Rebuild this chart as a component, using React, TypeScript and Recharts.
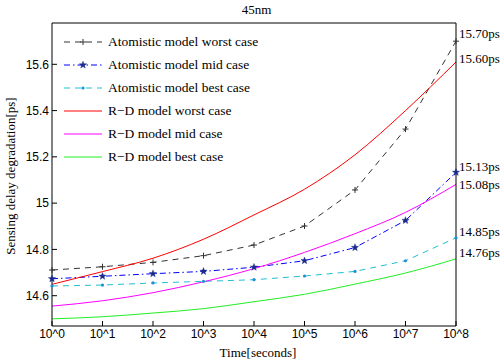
import React from "react";
import { LineChart, Line, XAxis, YAxis, Legend, LabelList, Label } from "recharts";

// time exponents: 10^0 .. 10^8 seconds
const exps = [0, 1, 2, 3, 4, 5, 6, 7, 8];
const atomWorst = [14.711, 14.725, 14.744, 14.773, 14.819, 14.901, 15.057, 15.32, 15.7];
const atomMid = [14.673, 14.684, 14.695, 14.705, 14.723, 14.751, 14.808, 14.925, 15.133];
const atomBest = [14.642, 14.646, 14.655, 14.662, 14.669, 14.685, 14.705, 14.751, 14.85];
const rdWorst = [14.649, 14.704, 14.762, 14.844, 14.949, 15.06, 15.209, 15.4, 15.61];
const rdMid = [14.555, 14.578, 14.613, 14.66, 14.717, 14.787, 14.868, 14.96, 15.081];
const rdBest = [14.5, 14.509, 14.525, 14.544, 14.574, 14.606, 14.65, 14.698, 14.759];
const yTicks = [14.6, 14.8, 15, 15.2, 15.4, 15.6];
const endLabels = ["15.70ps", "15.13ps", "14.85ps", "15.60ps", "15.08ps", "14.76ps"];

const data = exps.map((e, i) => ({
  x: e,
  atomWorst: atomWorst[i],
  atomMid: atomMid[i],
  atomBest: atomBest[i],
  rdWorst: rdWorst[i],
  rdMid: rdMid[i],
  rdBest: rdBest[i],
}));

const serif = '"Liberation Serif", "Times New Roman", serif';
const sans = '"Liberation Sans", Arial, sans-serif';
const yDomain = [14.469, 15.7785];

function PlusMark({ cx, cy }: any) {
  if (cx == null || cy == null) return null;
  return <path d={`M${cx - 3},${cy}h6M${cx},${cy - 3}v6`} stroke="#333" strokeWidth={1} fill="none" />;
}

function starPath(cx: number, cy: number, r: number) {
  let d = "";
  for (let k = 0; k < 10; k++) {
    const rr = k % 2 === 0 ? r : r * 0.42;
    const a = -Math.PI / 2 + (k * Math.PI) / 5;
    d += (k === 0 ? "M" : "L") + (cx + rr * Math.cos(a)).toFixed(2) + "," + (cy + rr * Math.sin(a)).toFixed(2);
  }
  return d + "Z";
}

function StarMark({ cx, cy }: any) {
  if (cx == null || cy == null) return null;
  return <path d={starPath(cx, cy, 3.8)} fill="#1a2a8a" stroke="#1a2a8a" strokeWidth={0.4} />;
}

function DotMark({ cx, cy }: any) {
  if (cx == null || cy == null) return null;
  return <circle cx={cx} cy={cy} r={1.6} fill="#1f8fd8" />;
}

const series = [
  { key: "atomWorst", name: "Atomistic model worst case", color: "#333333", dash: "6 5", mark: PlusMark, dy: -8, curve: "linear" },
  { key: "atomMid", name: "Atomistic model mid case", color: "#0000ff", dash: "6 3 1.5 3", mark: StarMark, dy: -6, curve: "linear" },
  { key: "atomBest", name: "Atomistic model best case", color: "#1fc0d0", dash: "6 5", mark: DotMark, dy: -6, curve: "linear" },
  { key: "rdWorst", name: "R\u2212D model worst case", color: "#ff0000", dash: undefined, mark: null, dy: -3, curve: "monotone" },
  { key: "rdMid", name: "R\u2212D model mid case", color: "#ff00ff", dash: undefined, mark: null, dy: 0, curve: "monotone" },
  { key: "rdBest", name: "R\u2212D model best case", color: "#22ee22", dash: undefined, mark: null, dy: -6, curve: "monotone" },
];

function LegendBox() {
  return (
    <div style={{ fontFamily: serif, fontSize: 13.5, color: "#000" }}>
      {series.map((s) => {
        const Mark = s.mark as any;
        return (
          <div key={s.key} style={{ display: "flex", alignItems: "center", height: 23 }}>
            <svg width={42} height={10} style={{ marginRight: 3 }}>
              <line x1={1} y1={5} x2={39} y2={5} stroke={s.color} strokeWidth={1} strokeDasharray={s.dash} />
              {Mark && <Mark cx={20} cy={5} />}
            </svg>
            <span>{s.name}</span>
          </div>
        );
      })}
    </div>
  );
}

export default function App() {
  return (
    <div style={{ position: "absolute", left: 0, top: 0, width: 501, height: 362, background: "#fff" }}>
      <div style={{ position: "absolute", left: 0, width: 501, top: 2, textAlign: "center", fontFamily: serif, fontSize: 13, paddingLeft: 6 }}>
        45nm
      </div>
      <div
        style={{
          position: "absolute",
          left: 11,
          top: 176,
          transform: "translate(-50%, -50%) rotate(-90deg)",
          whiteSpace: "nowrap",
          fontFamily: serif,
          fontSize: 13,
        }}
      >
        Sensing delay degradation[ps]
      </div>
      <LineChart width={501} height={362} data={data} margin={{ top: 22, right: 44, bottom: 6, left: 7 }}>
        <XAxis
          dataKey="x"
          type="number"
          domain={[0, 8]}
          ticks={exps}
          tickFormatter={(v) => `10^${v}`}
          height={30}
          tickSize={-5}
          tickMargin={8}
          tick={{ fill: "#000", fontSize: 12, fontFamily: sans }}
          axisLine={{ stroke: "#000" }}
          tickLine={{ stroke: "#000" }}
        >
          <Label value="Time[seconds]" position="insideBottom" offset={-1} dx={4} style={{ fontFamily: serif, fontSize: 13, fill: "#000" }} />
        </XAxis>
        <XAxis
          xAxisId="top"
          orientation="top"
          dataKey="x"
          type="number"
          domain={[0, 8]}
          ticks={exps}
          height={1}
          tickSize={-5}
          tick={false}
          axisLine={{ stroke: "#000" }}
          tickLine={{ stroke: "#000" }}
        />
        <YAxis
          type="number"
          domain={yDomain}
          ticks={yTicks}
          tickFormatter={(v) => String(+Number(v).toFixed(1))}
          width={45}
          tickSize={-5}
          tickMargin={8}
          tick={{ fill: "#000", fontSize: 12, fontFamily: sans }}
          axisLine={{ stroke: "#000" }}
          tickLine={{ stroke: "#000" }}
          allowDataOverflow
        />
        <YAxis
          yAxisId="right"
          orientation="right"
          type="number"
          domain={yDomain}
          ticks={yTicks}
          width={1}
          tickSize={-5}
          tick={false}
          axisLine={{ stroke: "#000" }}
          tickLine={{ stroke: "#000" }}
        />
        <Legend
          verticalAlign="middle"
          align="center"
          layout="vertical"
          content={() => <LegendBox />}
          wrapperStyle={{ position: "absolute", left: 63, top: 30, width: 220 }}
        />
        {series.map((s, si) => {
          const Mark = s.mark as any;
          return (
            <Line
              key={s.key}
              dataKey={s.key}
              name={s.name}
              type={s.curve as any}
              stroke={s.color}
              strokeWidth={1}
              strokeDasharray={s.dash}
              dot={Mark ? (p: any) => <Mark key={p.index} cx={p.cx} cy={p.cy} /> : false}
              activeDot={false}
              isAnimationActive={false}
            >
              <LabelList
                dataKey={s.key}
                content={(p: any) =>
                  p.index === exps.length - 1 ? (
                    <text
                      x={Number(p.x) + 3}
                      y={Number(p.y) + s.dy}
                      dominantBaseline="central"
                      fontFamily={serif}
                      fontSize={13}
                      fill="#000"
                    >
                      {endLabels[si]}
                    </text>
                  ) : null
                }
              />
            </Line>
          );
        })}
      </LineChart>
    </div>
  );
}
